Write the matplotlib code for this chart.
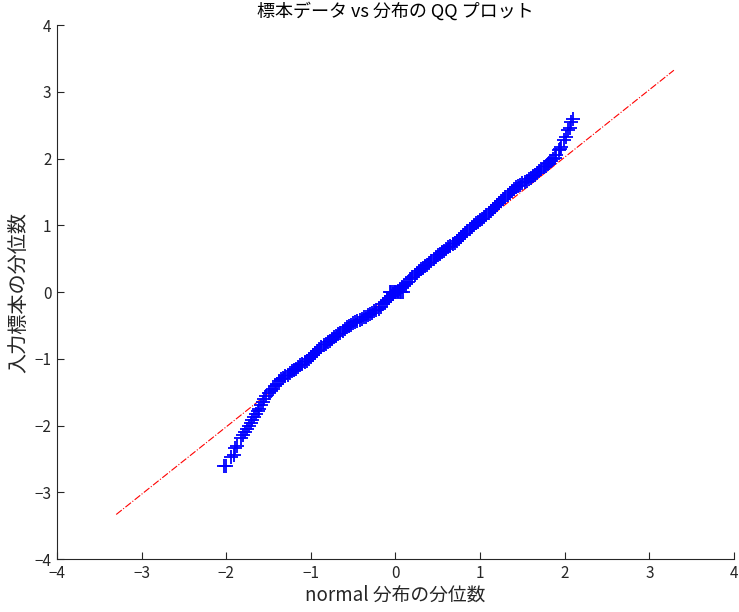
import matplotlib
matplotlib.use("Agg")
import matplotlib.pyplot as plt

plt.rcParams['font.family'] = ['Noto Sans CJK JP', 'DejaVu Sans']
plt.rcParams['axes.unicode_minus'] = True

title = "標本データ vs 分布の QQ プロット"
xlabel = "normal 分布の分位数"
ylabel = "入力標本の分位数"
ticks = [-4, -3, -2, -1, 0, 1, 2, 3, 4]

# lower tail
tail_lo_x = [-2.03, -2.00, -1.94, -1.91, -1.90, -1.87, -1.83, -1.80, -1.78, -1.76,
             -1.73, -1.71, -1.69, -1.67, -1.65, -1.63, -1.61, -1.59, -1.57]
tail_lo_y = [-2.61, -2.60, -2.47, -2.44, -2.34, -2.30, -2.18, -2.14, -2.09, -2.05,
             -2.00, -1.96, -1.92, -1.88, -1.83, -1.79, -1.75, -1.70, -1.65]

# body of the distribution
body_x = [-1.550, -1.525, -1.500, -1.475, -1.450, -1.425, -1.400, -1.375, -1.350, -1.325,
          -1.300, -1.275, -1.250, -1.225, -1.200, -1.175, -1.150, -1.125, -1.100, -1.075,
          -1.050, -1.025, -1.000, -0.975, -0.950, -0.925, -0.900, -0.875, -0.850, -0.825,
          -0.800, -0.775, -0.750, -0.725, -0.700, -0.675, -0.650, -0.625, -0.600, -0.575,
          -0.550, -0.525, -0.500, -0.475, -0.450, -0.425, -0.400, -0.375, -0.350, -0.325,
          -0.300, -0.275, -0.250, -0.225, -0.200, -0.175, -0.150, -0.125, -0.100, -0.075,
          -0.050, -0.025, 0.000, 0.025, 0.050, 0.075, 0.100, 0.125, 0.150, 0.175,
          0.200, 0.225, 0.250, 0.275, 0.300, 0.325, 0.350, 0.375, 0.400, 0.425,
          0.450, 0.475, 0.500, 0.525, 0.550, 0.575, 0.600, 0.625, 0.650, 0.675,
          0.700, 0.725, 0.750, 0.775, 0.800, 0.825, 0.850, 0.875, 0.900, 0.925,
          0.950, 0.975, 1.000, 1.025, 1.050, 1.075, 1.100, 1.125, 1.150, 1.175,
          1.200, 1.225, 1.250, 1.275, 1.300, 1.325, 1.350, 1.375, 1.400, 1.425,
          1.450, 1.475, 1.500, 1.525, 1.550, 1.575, 1.600, 1.625, 1.650, 1.675,
          1.700, 1.725, 1.750, 1.775, 1.800]
body_y = [-1.60, -1.56, -1.52, -1.49, -1.45, -1.41, -1.38, -1.34, -1.31, -1.29,
          -1.26, -1.24, -1.21, -1.19, -1.17, -1.15, -1.12, -1.10, -1.08, -1.05,
          -1.03, -1.00, -0.97, -0.94, -0.91, -0.88, -0.85, -0.83, -0.80, -0.78,
          -0.75, -0.73, -0.70, -0.68, -0.66, -0.63, -0.61, -0.58, -0.56, -0.53,
          -0.51, -0.49, -0.47, -0.45, -0.43, -0.42, -0.40, -0.38, -0.37, -0.35,
          -0.33, -0.31, -0.29, -0.27, -0.25, -0.22, -0.18, -0.15, -0.12, -0.09,
          -0.06, -0.03, 0.00, 0.02, 0.04, 0.07, 0.09, 0.12, 0.15, 0.19,
          0.22, 0.25, 0.28, 0.31, 0.34, 0.36, 0.39, 0.41, 0.44, 0.47,
          0.50, 0.52, 0.55, 0.57, 0.60, 0.62, 0.65, 0.67, 0.69, 0.72,
          0.74, 0.76, 0.79, 0.82, 0.85, 0.88, 0.91, 0.94, 0.97, 1.00,
          1.03, 1.05, 1.08, 1.10, 1.13, 1.16, 1.19, 1.21, 1.24, 1.27,
          1.30, 1.33, 1.36, 1.39, 1.42, 1.45, 1.49, 1.52, 1.55, 1.57,
          1.59, 1.61, 1.63, 1.65, 1.67, 1.69, 1.71, 1.74, 1.76, 1.79,
          1.82, 1.84, 1.87, 1.89, 1.92]

# cluster of tied values at zero
zero_x = [-0.07, -0.05, -0.03, -0.01, 0.01, 0.03, 0.05, 0.07, 0.09]
zero_y = [0.00, 0.00, 0.00, 0.00, 0.00, 0.00, 0.00, 0.00, 0.00]

# upper tail
tail_hi_x = [1.82, 1.84, 1.86, 1.88, 1.90, 1.93, 1.95, 1.96, 1.99, 2.01,
             2.04, 2.06, 2.08, 2.10]
tail_hi_y = [1.94, 1.97, 1.99, 2.01, 2.05, 2.13, 2.15, 2.18, 2.28, 2.32,
             2.42, 2.46, 2.55, 2.59]

# reference line endpoints (x) and slope
ref_x = [-3.30, 3.29]
ref_slope = 1.01

qx = tail_lo_x + body_x + zero_x + tail_hi_x
qy = tail_lo_y + body_y + zero_y + tail_hi_y

fig = plt.figure(figsize=(7.39, 6.12), dpi=100)
ax = fig.add_axes([0.0771, 0.0866, 0.9161, 0.8725])

ax.plot(ref_x, [v * ref_slope for v in ref_x], color='#ff0000',
        linestyle='-.', linewidth=0.8, zorder=1)
ax.plot(qx, qy, linestyle='none', marker='+', color='#0000ff',
        markersize=9.5, markeredgewidth=1.3, zorder=2)

ax.set_xlim(-4, 4)
ax.set_ylim(-4, 4)
ax.set_xticks(ticks)
ax.set_yticks(ticks)
dark = '#262626'
ax.spines['top'].set_visible(False)
ax.spines['right'].set_visible(False)
for s in ('left', 'bottom'):
    ax.spines[s].set_color(dark)
    ax.spines[s].set_linewidth(0.8)
ax.tick_params(direction='in', length=5, width=0.8, colors=dark,
               labelsize=11, pad=4)
ax.set_title(title, fontsize=13, color='#000000', pad=6)
ax.set_xlabel(xlabel, fontsize=13.5, color=dark, labelpad=2)
ax.set_ylabel(ylabel, fontsize=14.5, color=dark, labelpad=4)

fig.savefig('out.png', dpi=100)
